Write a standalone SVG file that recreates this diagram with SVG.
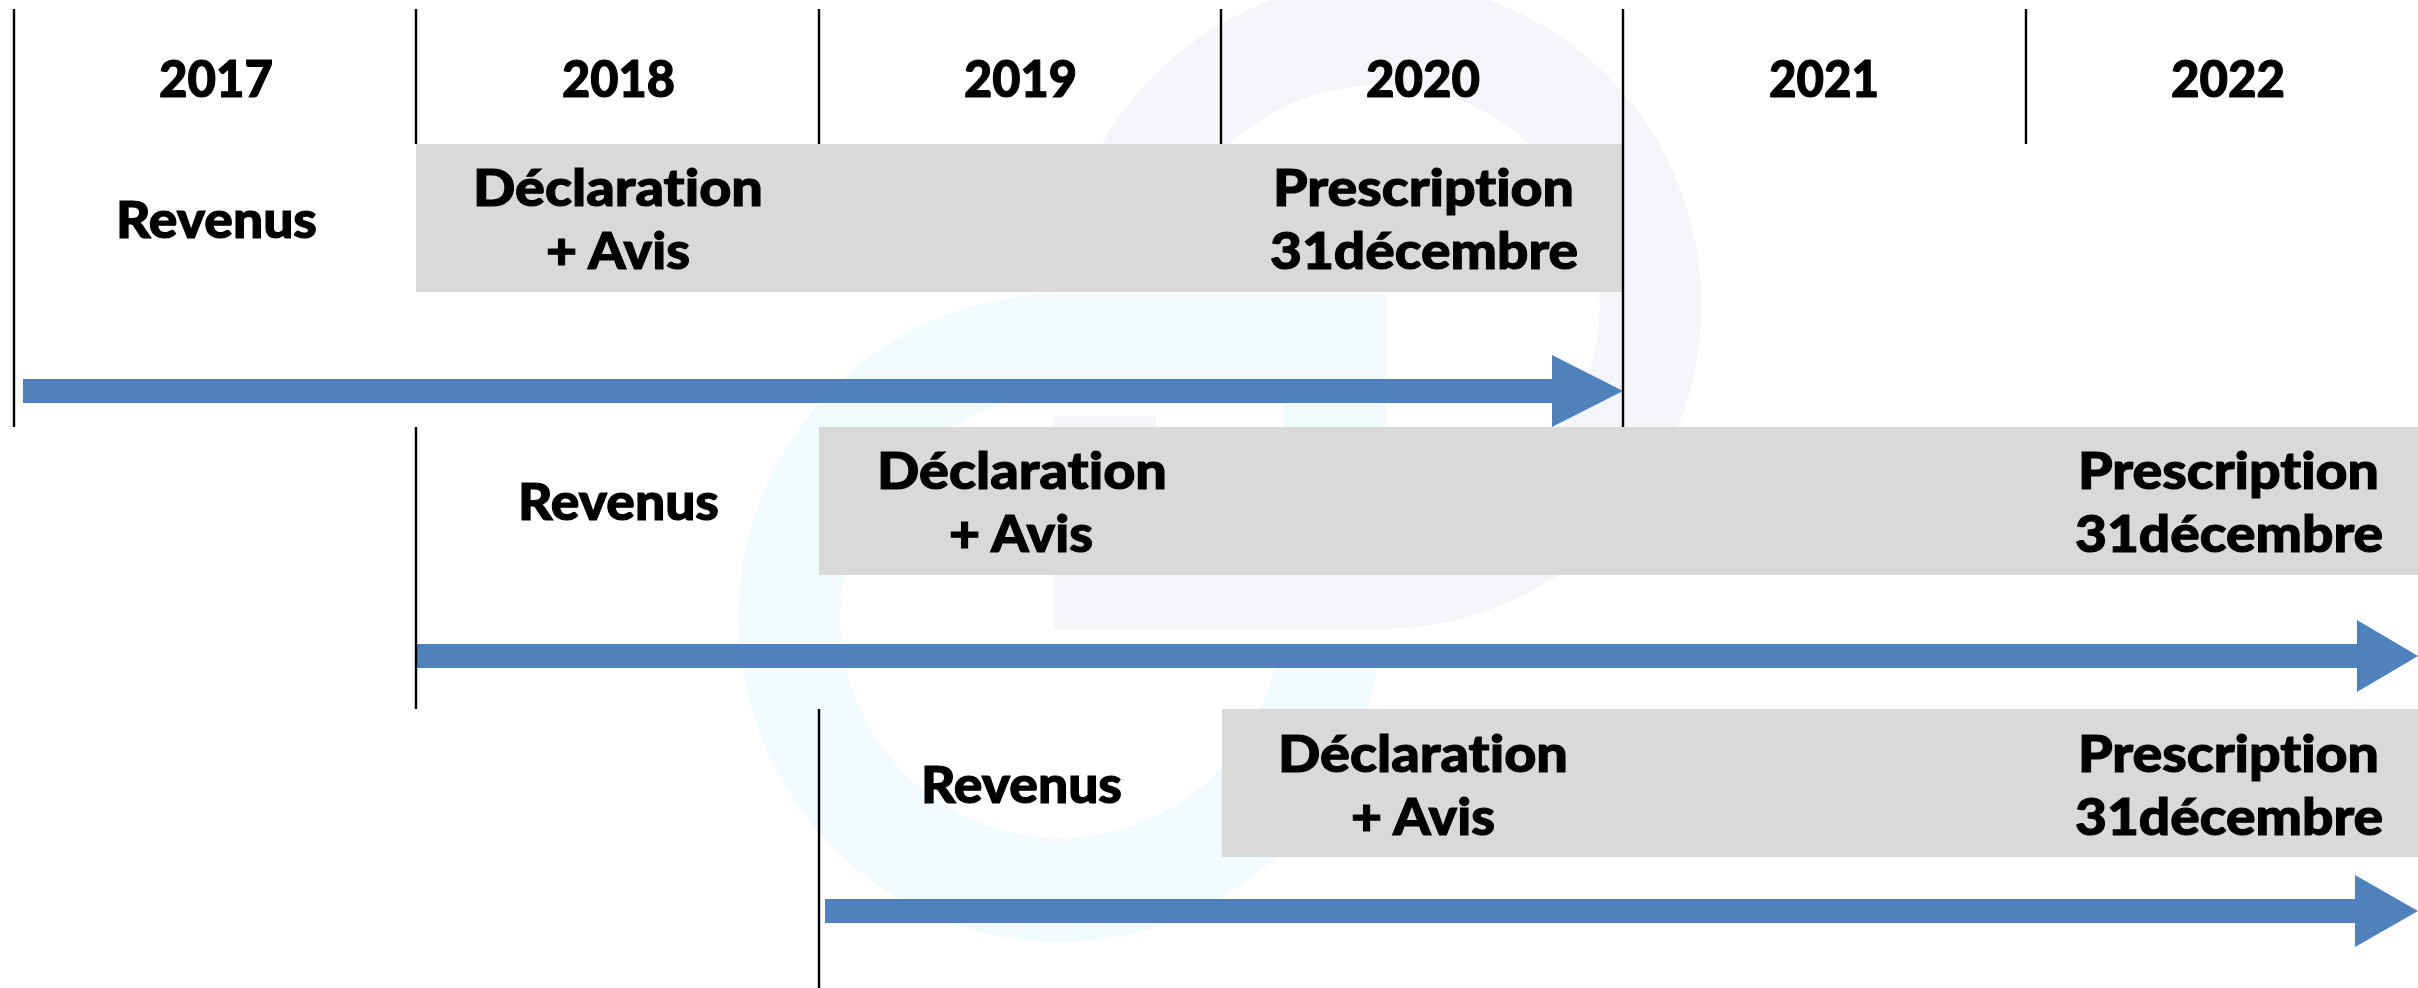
<svg xmlns="http://www.w3.org/2000/svg" width="2418" height="988" viewBox="0 0 2418 988">
<style>
text{font-family:"Lato","Liberation Sans",sans-serif;font-weight:900;font-size:51px;fill:#000;stroke:#000;stroke-width:1.1;font-variant-ligatures:none}
.bar{fill:#d9d9d9}
.arrow{fill:#4f81bd}
.tick{stroke:#000;stroke-width:2.4;fill:none}
</style>
<rect width="2418" height="988" fill="#fff"/>
<g id="watermark">
<path fill="#f3fafd" fill-rule="evenodd" d="M1060 294H1386V507H1284V398H1060A220 220 0 1 0 1278 650H1379A321 324 0 1 1 1060 294Z"/>
<path fill="#f4f5f9" fill-rule="evenodd" d="M1380 629H1054V416H1156V525H1380A220 220 0 1 0 1162 273H1061A321 324 0 1 1 1380 629Z"/>
</g>
<g id="bars">
<rect id="bar-2017" class="bar" x="416" y="144" width="1207" height="148"/>
<rect id="bar-2018" class="bar" x="819" y="427" width="1599" height="148"/>
<rect id="bar-2019" class="bar" x="1222" y="709" width="1196" height="148"/>
</g>
<g id="connectors">
<path id="arrow-2017" class="arrow" d="M23 379H1552V355L1623 391L1552 427V403H23Z"/>
<path id="arrow-2018" class="arrow" d="M416 644H2357V620L2418 656L2357 692V668H416Z"/>
<path id="arrow-2019" class="arrow" d="M825 899H2355V875L2418 911L2355 947V923H825Z"/>
<path id="ticks" class="tick" d="M14 9V427M416 9V144M819 9V144M1221 9V144M1623 9V427M2026 9V144M416 427V709M819 709V988"/>
</g>
<g id="years">
<text id="y2017" x="159" y="97" textLength="114" lengthAdjust="spacingAndGlyphs">2017</text>
<text id="y2018" x="562" y="97" textLength="113" lengthAdjust="spacingAndGlyphs">2018</text>
<text id="y2019" x="964" y="97" textLength="113" lengthAdjust="spacingAndGlyphs">2019</text>
<text id="y2020" x="1366" y="97" textLength="114" lengthAdjust="spacingAndGlyphs">2020</text>
<text id="y2021" x="1769" y="97" textLength="110" lengthAdjust="spacingAndGlyphs">2021</text>
<text id="y2022" x="2171" y="97" textLength="114" lengthAdjust="spacingAndGlyphs">2022</text>
</g>
<g id="row-2017">
<text x="116" y="238" textLength="201" lengthAdjust="spacingAndGlyphs">Revenus</text>
<text x="473" y="206" textLength="290" lengthAdjust="spacingAndGlyphs">Déclaration</text>
<text x="546" y="269" textLength="144" lengthAdjust="spacingAndGlyphs">+ Avis</text>
<text x="1273" y="206" textLength="301" lengthAdjust="spacingAndGlyphs">Prescription</text>
<text x="1270" y="269" textLength="308" lengthAdjust="spacingAndGlyphs">31décembre</text>
</g>
<g id="row-2018">
<text x="518" y="520" textLength="201" lengthAdjust="spacingAndGlyphs">Revenus</text>
<text x="877" y="489" textLength="290" lengthAdjust="spacingAndGlyphs">Déclaration</text>
<text x="949" y="552" textLength="144" lengthAdjust="spacingAndGlyphs">+ Avis</text>
<text x="2078" y="489" textLength="301" lengthAdjust="spacingAndGlyphs">Prescription</text>
<text x="2075" y="552" textLength="308" lengthAdjust="spacingAndGlyphs">31décembre</text>
</g>
<g id="row-2019">
<text x="921" y="803" textLength="201" lengthAdjust="spacingAndGlyphs">Revenus</text>
<text x="1278" y="772" textLength="290" lengthAdjust="spacingAndGlyphs">Déclaration</text>
<text x="1351" y="835" textLength="144" lengthAdjust="spacingAndGlyphs">+ Avis</text>
<text x="2078" y="772" textLength="301" lengthAdjust="spacingAndGlyphs">Prescription</text>
<text x="2075" y="835" textLength="308" lengthAdjust="spacingAndGlyphs">31décembre</text>
</g>
</svg>
